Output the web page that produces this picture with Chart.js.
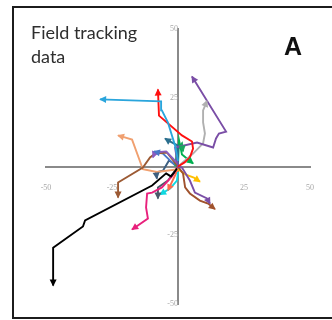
<!DOCTYPE html>
<html>
<head>
<meta charset="utf-8">
<script src="https://cdn.jsdelivr.net/npm/chart.js@4"></script>
<style>
  body { margin: 0; background: #fff; }
  #wrap { position: relative; width: 332px; height: 320px; overflow: hidden; background: #fff; }
  #frame { position: absolute; left: 12px; top: 6px; width: 330px; height: 309px; border: 2px solid #1c1c1c; pointer-events: none; }
  #title { position: absolute; left: 31px; top: 20px; font-family: Lato, sans-serif; font-size: 18px; line-height: 24px; color: #2e2e2e; }
  #panel { position: absolute; left: 284px; top: 32px; font-family: "Liberation Sans", Arial, sans-serif; font-weight: bold; font-size: 25px; color: #111; }
</style>
</head>
<body>
<div id="wrap">
  <canvas id="trackChart" width="332" height="320"></canvas>
  <div id="frame"></div>
  <div id="title">Field tracking<br>data</div>
  <div id="panel">A</div>
</div>
<script>
// axis ticks
const xTicks = [-50, -25, 25, 50];
const yTicks = [-50, -25, 25, 50];

// tracks, [x, y] in metres from release point, last point is the arrow tip
const trackBlack = [[-0.4, -0.7], [-1.5, -2.2], [-2.7, -3.6], [-4.5, -2.5], [-9.8, -6.9], [-35.2, -19.6], [-36, -21.8], [-47.3, -29.5], [-47.3, -43.3]];
const trackRed = [[0, 0], [2.5, 1.5], [4.5, 3.3], [5.7, 6.5], [5.3, 9.1], [1.5, 11.3], [-7.2, 18.5], [-7.6, 28]];
const trackSky = [[0, 2], [-1.1, 7.6], [-2.3, 11.3], [-3.8, 16], [-6.1, 20.4], [-6.4, 23.7], [-29.5, 24.4]];
const trackPurple = [[0, 0], [-1.1, 6.9], [7.2, 8.7], [13.3, 6.9], [14.4, 10.2], [15.5, 12], [18.2, 12.7], [5.3, 32.7]];
const trackPurple2 = [[0, 0], [1.5, -0.4], [4.5, -5.1], [6.4, -9.5], [11, -11.6], [12.1, -13.5]];
const trackViolet = [[0, 1], [-4.5, 5.5], [-8.7, 5.1], [-9.5, 3.3]];
const trackGray = [[0, 0], [5.7, 4.7], [9.5, 8.4], [10.2, 12], [9.5, 16], [9.5, 20.4], [11, 23.9]];
const trackBrown = [[0, 0], [1.9, -2.5], [2.7, -7.6], [4.5, -9.8], [8.3, -12.4], [11.4, -13.5], [14, -15.5]];
const trackBrown2 = [[0, 0], [-4.2, 5.1], [-8.7, 4.7], [-10.6, 3.3], [-13.3, -0.4], [-22.7, -5.8], [-22.7, -11.3]];
const trackPeach = [[0, -1], [-8, -2], [-13.3, -1], [-17.4, 9.8], [-22.7, 11.3]];
const trackTeal = [[0, 0], [0, 7.6], [-3.8, 9.5], [-4.9, 10.2]];
const trackGreen = [[0, 1], [0.4, 9.5], [1.5, 4.4], [5.7, 1.1]];
const trackGreen2 = [[-1, 0], [-0.4, 6.5], [1.5, 8.4], [1.9, 5.5]];
const trackBlue = [[-1.1, 0.4], [-5.7, 4.7], [-9.1, 5.5]];
const trackNavy = [[0, 0], [-3.4, 2.2], [-5.7, -1.5], [-8.3, -2.2], [-8, -4.4]];
const trackAqua = [[0, -2], [-0.4, -5.1], [-3, -8], [-6.8, -10.2]];
const trackMagenta = [[0, 0], [-2.3, -3.6], [-6.1, -7.6], [-9.8, -9.5], [-11.7, -9.8], [-12.1, -14.9], [-11.4, -18.9], [-17.4, -22.9]];
const trackSlate = [[0, 0], [-3.8, -5.1], [-7.6, -7.6], [-7.6, -11.6]];
const trackGold = [[0, -1], [3, -3], [6, -4], [8.3, -5.5]];
const trackSalmon = [[0, -1], [-1.5, -4], [-3.8, -8.7]];

const tracks = [
    [trackBlack, '#000000'],
    [trackSky, '#2aa5dc'],
    [trackRed, '#ff1010'],
    [trackPurple, '#7a4ea6'],
    [trackPurple2, '#7a4ea6'],
    [trackViolet, '#8a5cc0'],
    [trackGray, '#b0b0b0'],
    [trackBrown, '#a0522d'],
    [trackBrown2, '#9c5a34'],
    [trackPeach, '#f0a070'],
    [trackTeal, '#2b6f8e'],
    [trackGreen, '#00b050'],
    [trackGreen2, '#1aa860'],
    [trackBlue, '#4a78c8'],
    [trackNavy, '#3d5f80'],
    [trackAqua, '#10d8e0'],
    [trackMagenta, '#e8207c'],
    [trackSlate, '#4a5a6a'],
    [trackGold, '#ffc000'],
    [trackSalmon, '#ff6a4a']
];

// draws a small filled arrow at the end of each track
const arrowHeads = {
    id: 'arrowHeads',
    afterDatasetsDraw(chart) {
        const ctx = chart.ctx;
        chart.data.datasets.forEach((ds, i) => {
            const pts = chart.getDatasetMeta(i).data;
            const a = pts[pts.length - 2], b = pts[pts.length - 1];
            const ang = Math.atan2(b.y - a.y, b.x - a.x);
            ctx.save();
            ctx.translate(b.x, b.y);
            ctx.rotate(ang);
            ctx.beginPath();
            ctx.moveTo(1, 0);
            ctx.lineTo(-6, -3.5);
            ctx.lineTo(-6, 3.5);
            ctx.closePath();
            ctx.fillStyle = ds.borderColor;
            ctx.fill();
            ctx.restore();
        });
    }
};

const tickFont = { family: 'Liberation Serif', size: 8 };

new Chart(document.getElementById('trackChart'), {
    type: 'scatter',
    data: {
        datasets: tracks.map(([pts, color]) => ({
            data: pts.map(p => ({ x: p[0], y: p[1] })),
            showLine: true,
            borderColor: color,
            borderWidth: 1.9,
            pointRadius: 0,
            tension: 0
        }))
    },
    options: {
        responsive: false,
        animation: false,
        layout: { padding: { left: 46, right: 22, top: 29, bottom: 16 } },
        plugins: { legend: { display: false }, tooltip: { enabled: false } },
        scales: {
            x: {
                type: 'linear', min: -50, max: 50,
                position: { y: 0 },
                afterBuildTicks: s => { s.ticks = xTicks.map(v => ({ value: v })); },
                grid: { display: false },
                border: { color: '#8a8a8a', width: 2 },
                ticks: { color: '#a8a8a8', font: tickFont, padding: 9, autoSkip: false, maxRotation: 0 }
            },
            y: {
                type: 'linear', min: -50, max: 50,
                position: { x: 0 },
                afterBuildTicks: s => { s.ticks = yTicks.map(v => ({ value: v })); },
                grid: { display: false },
                border: { color: '#8a8a8a', width: 2 },
                ticks: { color: '#a8a8a8', font: tickFont, padding: 9, autoSkip: false }
            }
        }
    },
    plugins: [arrowHeads]
});
</script>
</body>
</html>
